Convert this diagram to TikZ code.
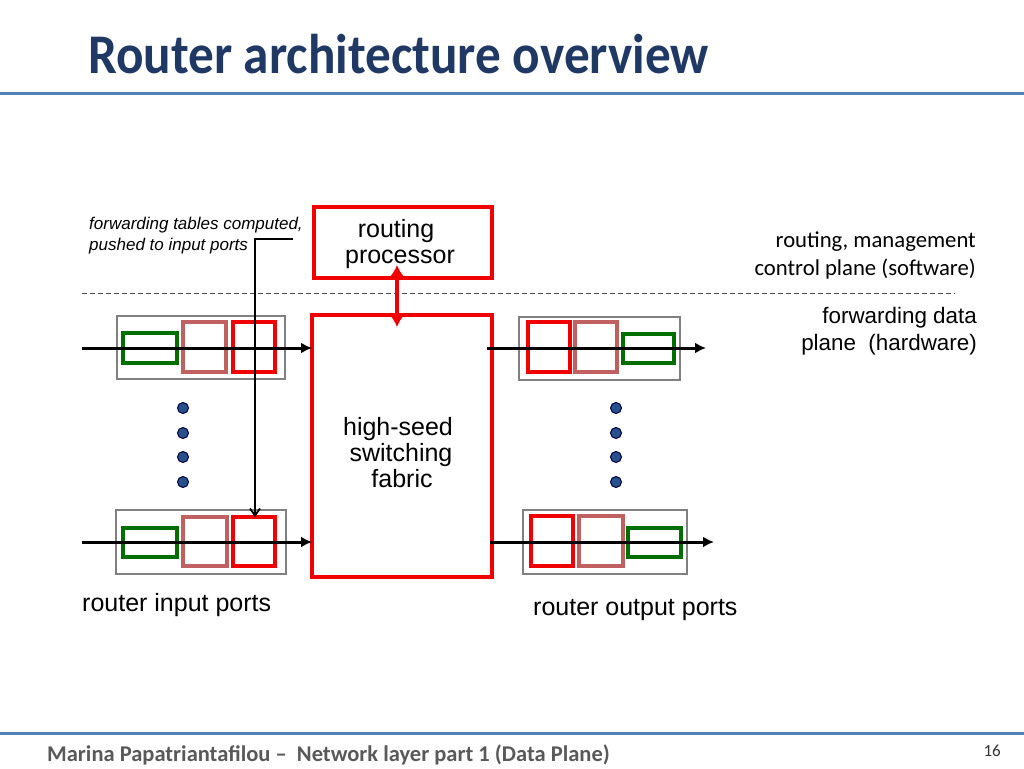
\documentclass[tikz,border=0pt]{standalone}
\usepackage{fontspec}
\setmainfont{Liberation Sans}
\newfontfamily\calfont{Carlito}
\usetikzlibrary{arrows.meta}
\definecolor{titleblue}{RGB}{31,56,100}
\definecolor{rulebl}{RGB}{79,129,189}
\definecolor{pgreen}{RGB}{0,110,0}
\definecolor{ppink}{RGB}{192,96,96}
\definecolor{pred}{RGB}{240,0,0}
\definecolor{dotblue}{RGB}{40,80,140}
\definecolor{footgray}{RGB}{89,89,89}
\tikzset{
  redbox/.style={draw=pred, line width=3.6pt},
  graybox/.style={draw=gray, line width=2pt},
  greenbox/.style={draw=pgreen, line width=3.3pt},
  pinkbox/.style={draw=ppink, line width=3.3pt},
  flow/.style={line width=3pt, -{Latex[length=11pt,width=11pt]}},
  portdot/.style={circle, fill=dotblue, draw=black!75!blue, line width=1pt, inner sep=0pt, minimum size=11pt},
  lbl/.style={inner sep=0pt, font=\fontsize{25}{26}\selectfont},
}
\begin{document}
\begin{tikzpicture}[x=1pt,y=-1pt]
\useasboundingbox (0,0) rectangle (1024,768);
% title
\node[anchor=base west, inner sep=0pt, text=titleblue, font=\calfont\bfseries\fontsize{56}{60}\selectfont, xscale=0.915] (title) at (88,74) {Router architecture overview};
\draw[rulebl, line width=3pt] (0,93) -- (1024,93);
\draw[rulebl, line width=3pt] (0,733) -- (1024,733);
\node[anchor=base west, inner sep=0pt, text=footgray, font=\calfont\bfseries\fontsize{22.5}{24}\selectfont] (foot) at (47,761) {Marina Papatriantafilou –\ \ Network layer part 1 (Data Plane)};
\node[anchor=base east, inner sep=0pt, text=black!80, font=\calfont\fontsize{17}{20}\selectfont] (pnum) at (1001,756) {16};

% dashed separator
\draw[dashed, black!70, line width=0.8pt, dash pattern=on 5pt off 3pt] (82,293) -- (955,293);

% routing processor and fabric
\draw[redbox] (314,207) rectangle (492,278);
\node[lbl, anchor=base] (proc1) at (396,237) {routing};
\node[lbl, anchor=base] (proc2) at (400,263) {processor};
\draw[redbox] (312,315) rectangle (492,577);
\node[lbl, anchor=base] (fab1) at (398,435) {high-seed};
\node[lbl, anchor=base] (fab2) at (401,461) {switching};
\node[lbl, anchor=base] (fab3) at (402,487) {fabric};
\coordinate (procB) at (397,265);
\coordinate (fabT) at (397,327);
\draw[pred, line width=4pt, {Latex[length=12pt,width=15pt]}-{Latex[length=12pt,width=15pt]}] (procB) -- (fabT);

% input port top
\draw[graybox] (117,316) rectangle (285,379);
\draw[greenbox] (123,333) rectangle (177,363);
\draw[pinkbox] (183,322) rectangle (226,372);
\draw[redbox] (233,322) rectangle (275,372);
% input port bottom
\draw[graybox] (116,510) rectangle (286,574);
\draw[greenbox] (123,528) rectangle (177,557);
\draw[pinkbox] (183,517) rectangle (227,566);
\draw[redbox] (233,517) rectangle (275,566);
% output port top
\draw[graybox] (519,317) rectangle (680,380);
\draw[redbox] (528,322) rectangle (570,372);
\draw[pinkbox] (575,322) rectangle (617,372);
\draw[greenbox] (623,334) rectangle (674,363);
% output port bottom
\draw[graybox] (523,510) rectangle (687,574);
\draw[redbox] (531,516) rectangle (573,566);
\draw[pinkbox] (579,516) rectangle (623,566);
\draw[greenbox] (628,528) rectangle (681,557);

% flow arrows
\coordinate (in1) at (82,348);
\coordinate (in2) at (82,542);
\coordinate (out1s) at (487,348);
\coordinate (out1e) at (706,348);
\coordinate (out2s) at (490,542);
\coordinate (out2e) at (714,542);
\draw[flow] (in1) -- (312,348);
\draw[flow] (in2) -- (312,542);
\draw[flow] (out1s) -- (out1e);
\draw[flow] (out2s) -- (out2e);

% forwarding table push line
\node[anchor=base west, inner sep=0pt, font=\itshape\fontsize{17}{20}\selectfont] (fwdlbl) at (89,229) {forwarding tables computed,};
\node[anchor=base west, inner sep=0pt, font=\itshape\fontsize{17}{20}\selectfont] (fwdlbl2) at (89,250) {pushed to input ports};
\coordinate (pushA) at (293,239);
\coordinate (pushB) at (255,239);
\coordinate (pushC) at (255,517);
\draw[line width=1.8pt, -{Straight Barb[length=7pt,width=10pt]}] (pushA) -- (pushB) -- (pushC);

% dots
\foreach \y [count=\i] in {408,433,457,482} {
  \node[portdot] (dl\i) at (183,\y) {};
  \node[portdot] (dr\i) at (616,\y) {};
}

% right labels
\node[anchor=east, inner sep=0pt, font=\calfont\fontsize{22.7}{24}\selectfont] (cp1) at (976,242) {routing, management};
\node[anchor=east, inner sep=0pt, font=\calfont\fontsize{22.7}{24}\selectfont] (cp2) at (976,269) {control plane (software)};
\node[anchor=east, inner sep=0pt, font=\fontsize{22.4}{26}\selectfont] (dp1) at (977,318) {forwarding data};
\node[anchor=east, inner sep=0pt, font=\fontsize{22.4}{26}\selectfont] (dp2) at (977,345) {plane\ \ (hardware)};

% port labels
\node[anchor=west, inner sep=0pt, font=\fontsize{25}{26}\selectfont] (inlbl) at (82,605) {router input ports};
\node[anchor=west, inner sep=0pt, font=\fontsize{25}{26}\selectfont] (outlbl) at (533,610) {router output ports};
\end{tikzpicture}
\end{document}
